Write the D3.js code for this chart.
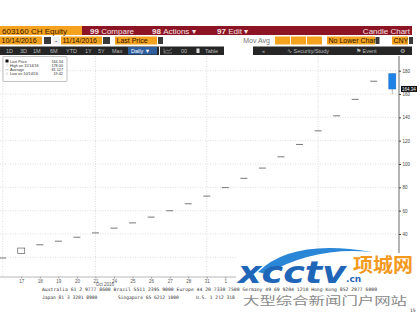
<!DOCTYPE html>
<html>
<head>
<meta charset="utf-8">
<script src="https://cdn.jsdelivr.net/npm/d3@7"></script>
<style>
  html, body { margin: 0; padding: 0; background: #fff; }
  svg { display: block; font-family: "Liberation Sans", Arial, sans-serif; }
</style>
</head>
<body>
<div id="chart"></div>
<script>
// Trading days shown on the chart
const dates = ["10/14", "10/17", "10/18", "10/19", "10/20", "10/21", "10/24", "10/25", "10/26", "10/27", "10/28",
    "10/31", "11/01", "11/02", "11/03", "11/04", "11/07", "11/08", "11/09", "11/10", "11/11", "11/14"];
const dayLabels = ["14", "17", "18", "19", "20", "21", "24", "25", "26", "27", "28",
    "31", "1", "2", "3", "4", "7", "8", "9", "10", "11", "14"];

// OHLC values (CNY)
const opens  = [19.42, 23.30, 30.76, 33.84, 37.22, 40.94, 45.03, 49.53, 54.48, 59.93, 65.92,
    72.51, 79.76, 87.74, 96.51, 106.16, 116.78, 128.46, 141.31, 155.44, 170.98, 177.4];
const highs  = [19.42, 27.96, 30.76, 33.84, 37.22, 40.94, 45.03, 49.53, 54.48, 59.93, 65.92,
    72.51, 79.76, 87.74, 96.51, 106.16, 116.78, 128.46, 141.31, 155.44, 170.98, 178.00];
const lows   = [19.42, 23.30, 30.76, 33.84, 37.22, 40.94, 45.03, 49.53, 54.48, 59.93, 65.92,
    72.51, 79.76, 87.74, 96.51, 106.16, 116.78, 128.46, 141.31, 155.44, 170.98, 159.8];
const closes = [19.42, 27.96, 30.76, 33.84, 37.22, 40.94, 45.03, 49.53, 54.48, 59.93, 65.92,
    72.51, 79.76, 87.74, 96.51, 106.16, 116.78, 128.46, 141.31, 155.44, 170.98, 164.34];

const yTicks = [20, 40, 60, 80, 100, 120, 140, 160, 180];
const gridDates = ["10/14", "10/21", "10/31", "11/08"];

const legendRows = [
    ["Last Price", "164.34"],
    ["High on 11/14/16", "178.00"],
    ["Average", "81.127"],
    ["Low on 10/14/16", "19.42"]
];

const width = 420, height = 314;
const svg = d3.select("#chart").append("svg")
    .attr("width", width).attr("height", height);

// ---------- header toolbar ----------
const orange = "#f5a21e", crimson = "#8c1424", dark = "#262626";
const hdr = svg.append("g");

hdr.append("rect").attr("x", 0).attr("y", 26).attr("width", 82).attr("height", 9).attr("fill", orange);
hdr.append("rect").attr("x", 82).attr("y", 26).attr("width", 330).attr("height", 9).attr("fill", crimson);
hdr.append("text").attr("x", 2).attr("y", 33.5).attr("font-size", 8).attr("fill", "#3a2000")
    .text("603160 CH Equity");
[["99", "Compare", 90], ["98", "Actions \u25BE", 152], ["97", "Edit  \u25BE", 217]].forEach(d => {
    const t = hdr.append("text").attr("x", d[2]).attr("y", 33.5).attr("font-size", 8).attr("fill", "#f6e2e2");
    t.append("tspan").attr("font-weight", "bold").text(d[0] + " ");
    t.append("tspan").text(d[1]);
});
hdr.append("text").attr("x", 410).attr("y", 33.5).attr("font-size", 8).attr("text-anchor", "end")
    .attr("fill", "#f6e2e2").text("Candle Chart");

// row 2: date fields
const row2 = [[0, 42, "10/14/2016"], [61, 41, "11/14/2016"], [115, 42, "Last Price"],
    [275, 15, ""], [291, 15, ""], [307, 15, ""], [327, 48, "No Lower Chart"], [392, 16, "CNY"]];
row2.forEach(d => {
    hdr.append("rect").attr("x", d[0]).attr("y", 36.5).attr("width", d[1]).attr("height", 8).attr("fill", orange);
    hdr.append("text").attr("x", d[0] + 1.5).attr("y", 43.2).attr("font-size", 7).attr("fill", "#2a1500").text(d[2]);
});
[[44, 7], [103, 7], [158, 5], [375.5, 4], [409, 4]].forEach(d => {
    hdr.append("rect").attr("x", d[0]).attr("y", 37).attr("width", d[1]).attr("height", 7).attr("fill", "#3a3a3a");
});
hdr.append("rect").attr("x", 53).attr("y", 37).attr("width", 7).attr("height", 7).attr("fill", "#f0f0f0");
hdr.append("text").attr("x", 55).attr("y", 43).attr("font-size", 7).attr("fill", "#333").text("-");
hdr.append("text").attr("x", 270).attr("y", 43.2).attr("font-size", 7).attr("text-anchor", "end")
    .attr("fill", "#777").text("Mov Avg");

// row 3: dark toolbar
hdr.append("rect").attr("x", 0).attr("y", 46.5).attr("width", 224).attr("height", 8.5).attr("fill", dark);
hdr.append("rect").attr("x", 253).attr("y", 46.5).attr("width", 159).attr("height", 8.5).attr("fill", dark);
[["1D", 6], ["3D", 20], ["1M", 33], ["6M", 50], ["YTD", 66], ["1Y", 85], ["5Y", 98], ["Max", 112]].forEach(d => {
    hdr.append("text").attr("x", d[1]).attr("y", 53.2).attr("font-size", 5.5).attr("fill", "#bbb").text(d[0]);
});
hdr.append("rect").attr("x", 128).attr("y", 47).attr("width", 29).attr("height", 7.5).attr("fill", "#2f5e9c");
hdr.append("text").attr("x", 131).attr("y", 53.2).attr("font-size", 5.5).attr("fill", "#fff").text("Daily \u25BC");
hdr.append("rect").attr("x", 159).attr("y", 46.5).attr("width", 1).attr("height", 8.5).attr("fill", "#fff");
hdr.append("path").attr("d", "M164,48.5 V53 H172 M164,52 L167,50 L169,51 L172,48.5")
    .attr("fill", "none").attr("stroke", "#aaa").attr("stroke-width", 0.6);
hdr.append("text").attr("x", 181).attr("y", 53.2).attr("font-size", 5.5).attr("fill", "#bbb").text("00");
hdr.append("rect").attr("x", 196.5).attr("y", 48.5).attr("width", 3).attr("height", 4.5).attr("fill", "#ddd");
hdr.append("text").attr("x", 205).attr("y", 53.2).attr("font-size", 5.5).attr("fill", "#bbb").text("Table");
hdr.append("text").attr("x", 262).attr("y", 53.2).attr("font-size", 5.5).attr("fill", "#bbb").text("\u00AB");
hdr.append("text").attr("x", 287).attr("y", 53.2).attr("font-size", 5.5).attr("fill", "#bbb").text("\u223F  Security/Study");
hdr.append("text").attr("x", 356).attr("y", 53.2).attr("font-size", 5.5).attr("fill", "#bbb").text("\u2691   Event");
hdr.append("text").attr("x", 400).attr("y", 53.4).attr("font-size", 6).attr("fill", "#bbb").text("\u2699");

// ---------- chart ----------
const axisX = 399, plotTop = 56, plotBottom = 277;

const x = d3.scalePoint().domain(dates).range([2.7, 392.3]);
const y = d3.scaleLinear().domain([40, 180]).range([234, 70.7]);

// grid
const grid = svg.append("g").attr("stroke", "#c8c8c8").attr("stroke-width", 0.6).attr("stroke-dasharray", "1,1.5");
grid.selectAll("line.h").data(yTicks).join("line")
    .attr("x1", 0).attr("x2", axisX).attr("y1", d => y(d)).attr("y2", d => y(d));
grid.selectAll("line.v").data(gridDates).join("line")
    .attr("x1", d => x(d)).attr("x2", d => x(d)).attr("y1", plotTop).attr("y2", plotBottom);

// candles
const bars = dates.map((d, i) => ({ date: d, o: opens[i], h: highs[i], l: lows[i], c: closes[i] }));
const cw = 7;
const candles = svg.append("g");
bars.forEach(b => {
    const cx = x(b.date);
    if (b.h === b.l) {
        // limit move: a flat dash
        candles.append("line").attr("x1", cx - cw / 2).attr("x2", cx + cw / 2)
            .attr("y1", y(b.c)).attr("y2", y(b.c)).attr("stroke", "#555").attr("stroke-width", 0.8);
        return;
    }
    candles.append("line").attr("x1", cx).attr("x2", cx).attr("y1", y(b.h)).attr("y2", y(b.l))
        .attr("stroke", "#888").attr("stroke-width", 0.6);
    const up = b.c >= b.o;
    candles.append("rect")
        .attr("x", cx - cw / 2).attr("width", cw)
        .attr("y", y(Math.max(b.o, b.c))).attr("height", Math.abs(y(b.o) - y(b.c)))
        .attr("fill", up ? "#fff" : "#1e82e6")
        .attr("stroke", up ? "#444" : "#1a6fc8").attr("stroke-width", 0.6);
});

// right axis
const yAxis = svg.append("g").attr("transform", `translate(${axisX},0)`)
    .call(d3.axisRight(y).tickValues(yTicks).tickSize(2).tickPadding(1.5));
yAxis.select(".domain").attr("d", `M0,${plotTop}V${plotBottom}`).attr("stroke", "#444").attr("stroke-width", 0.8);
yAxis.selectAll(".tick line").attr("stroke", "#444");
yAxis.selectAll(".tick text").attr("font-size", 4.5).attr("fill", "#444")
    .attr("font-family", "Liberation Sans, Arial, sans-serif");

// last price tag
svg.append("rect").attr("x", 401).attr("y", y(164.34) - 3).attr("width", 16).attr("height", 6).attr("fill", "#111");
svg.append("text").attr("x", 402).attr("y", y(164.34) + 1.7).attr("font-size", 4.5).attr("fill", "#fff").text("164.34");

// bottom axis
const labelDates = dates.slice(1);
const xAxis = svg.append("g").attr("transform", `translate(0,${plotBottom})`)
    .call(d3.axisBottom(x).tickValues(labelDates).tickSize(1.5).tickPadding(1)
        .tickFormat(d => dayLabels[dates.indexOf(d)]));
xAxis.select(".domain").attr("d", `M0,0H${axisX}`).attr("stroke", "#999").attr("stroke-width", 0.7);
xAxis.selectAll(".tick line").attr("stroke", "#999");
xAxis.selectAll(".tick text").attr("font-size", 4.5).attr("fill", "#555")
    .attr("font-family", "Liberation Sans, Arial, sans-serif");
svg.append("text").attr("x", 105).attr("y", 285.5).attr("font-size", 4.5).attr("fill", "#555")
    .attr("text-anchor", "middle").text("Oct 2016");

// legend
const lg = svg.append("g");
lg.append("rect").attr("x", 3).attr("y", 56.5).attr("width", 64).attr("height", 25).attr("rx", 1)
    .attr("fill", "#fff").attr("stroke", "#999").attr("stroke-width", 0.6);
legendRows.forEach((r, i) => {
    const ly = 62.5 + i * 4.3;
    lg.append("text").attr("x", 10).attr("y", ly).attr("font-size", 3.8).attr("fill", "#333").text(r[0]);
    lg.append("text").attr("x", 63).attr("y", ly).attr("font-size", 3.8).attr("fill", "#333")
        .attr("text-anchor", "end").text(r[1]);
});
lg.append("rect").attr("x", 5.5).attr("y", 59.5).attr("width", 3).attr("height", 3).attr("fill", "#111");
lg.append("line").attr("x1", 7).attr("x2", 7).attr("y1", 63.5).attr("y2", 66.5).attr("stroke", "#aaa").attr("stroke-width", 0.5);
lg.append("line").attr("x1", 5.5).attr("x2", 8.5).attr("y1", 69.8).attr("y2", 69.8).attr("stroke", "#888").attr("stroke-width", 0.5);
lg.append("line").attr("x1", 7).attr("x2", 7).attr("y1", 72.2).attr("y2", 75.2).attr("stroke", "#aaa").attr("stroke-width", 0.5);

// footer contacts
const ft = svg.append("g").attr("font-family", "DejaVu Sans Mono, monospace").attr("font-size", 4.6).attr("fill", "#333");
ft.append("text").attr("x", 42).attr("y", 291).attr("textLength", 335).attr("lengthAdjust", "spacingAndGlyphs")
    .text("Australia 61 2 9777 8600 Brazil 5511 2395 9000 Europe 44 20 7330 7500 Germany 49 69 9204 1210 Hong Kong 852 2977 6000");
ft.append("text").attr("x", 42).attr("y", 298.5).text("Japan 81 3 3201 8900");
ft.append("text").attr("x", 118).attr("y", 298.5).text("Singapore 65 6212 1000");
ft.append("text").attr("x", 196).attr("y", 298.5).text("U.S. 1 212 318 2000");
ft.append("text").attr("x", 410).attr("y", 311.5).text("15");

// watermark, laid over the chart on a white ground
const wm = svg.append("g");
wm.append("rect").attr("x", 236).attr("y", 253).attr("width", 180).attr("height", 33).attr("fill", "#fff");
wm.append("rect").attr("x", 238).attr("y", 292.5).attr("width", 172).attr("height", 14).attr("fill", "#fff");
wm.append("path")
    .attr("d", "M258,272 Q292,238 372,252 Q316,246 266,274 Z")
    .attr("fill", "#2a86d6");
wm.append("text").attr("x", 238).attr("y", 283).attr("font-size", 30).attr("font-weight", "bold")
    .attr("font-style", "italic").attr("font-family", "DejaVu Sans, sans-serif").attr("fill", "#1f66b8")
    .attr("textLength", 108).attr("lengthAdjust", "spacingAndGlyphs").text("xcctv");
wm.append("text").attr("x", 346).attr("y", 282).attr("font-size", 9).attr("font-weight", "bold")
    .attr("font-family", "DejaVu Sans, sans-serif").attr("fill", "#1f66b8").text(".cn");
wm.append("text").attr("x", 353).attr("y", 272).attr("font-size", 19).attr("font-weight", "bold")
    .attr("font-family", "Noto Sans CJK SC, sans-serif").attr("fill", "#f39a1e")
    .attr("textLength", 60).attr("lengthAdjust", "spacingAndGlyphs").text("项城网");
wm.append("text").attr("x", 243).attr("y", 304.5).attr("font-size", 11)
    .attr("font-family", "Noto Sans CJK SC, sans-serif").attr("fill", "#8a8a8a")
    .attr("textLength", 164).attr("lengthAdjust", "spacingAndGlyphs").text("大型综合新闻门户网站");
</script>
</body>
</html>
